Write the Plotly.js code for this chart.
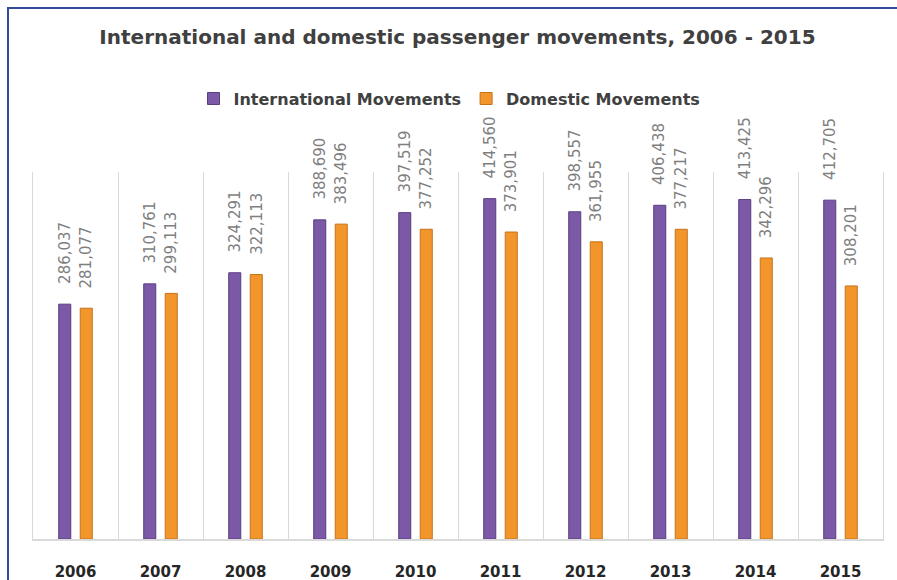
<!DOCTYPE html>
<html>
<head>
<meta charset="utf-8">
<script src="https://cdn.plot.ly/plotly-3.0.1.min.js"></script>
<style>
html,body{margin:0;padding:0;background:#fff;}
#wrap{position:relative;width:897px;height:580px;overflow:hidden;}
#chart{width:897px;height:580px;}
#frame{position:absolute;left:7px;top:7px;width:2000px;height:2000px;border-left:2px solid #2f4c9c;border-top:2px solid #2f4c9c;pointer-events:none;}
</style>
</head>
<body>
<div id="wrap"><div id="chart"></div><div id="frame"></div></div>
<script>
const years = ["2006","2007","2008","2009","2010","2011","2012","2013","2014","2015"];
const international = [286037,310761,324291,388690,397519,414560,398557,406438,413425,412705];
const domestic = [281077,299113,322113,383496,377252,373901,361955,377217,342296,308201];
const seriesNames = ["International Movements","Domestic Movements"];

const fmt = v => v.toLocaleString("en-US");

const traces = [
  {type:"bar", name:seriesNames[0], x:years, y:international,
   marker:{color:"#7b59a7", line:{color:"#5b3d82", width:1}}, hoverinfo:"x+y"},
  {type:"bar", name:seriesNames[1], x:years, y:domestic,
   marker:{color:"#f2952b", line:{color:"#c4731c", width:1}}, hoverinfo:"x+y"}
];

const annotations = [];
years.forEach((yr,i)=>{
  annotations.push({x:i, y:international[i], xref:"x", yref:"y", text:fmt(international[i]),
    showarrow:false, textangle:-90, xanchor:"center", yanchor:"bottom", xshift:-10.75, yshift:18,
    font:{family:"DejaVu Sans", size:15, color:"#7f7f7f"}});
  annotations.push({x:i, y:domestic[i], xref:"x", yref:"y", text:fmt(domestic[i]),
    showarrow:false, textangle:-90, xanchor:"center", yanchor:"bottom", xshift:10.75, yshift:18,
    font:{family:"DejaVu Sans", size:15, color:"#7f7f7f"}});
});

const layout = {
  width:897, height:580,
  margin:{l:33, r:14, t:172, b:41},
  paper_bgcolor:"#ffffff", plot_bgcolor:"#ffffff",
  title:{text:"International and domestic passenger movements, 2006 - 2015",
    font:{family:"DejaVu Sans", size:20, color:"#404040", weight:"bold"},
    x:0.51, xanchor:"center", y:0.936, yanchor:"middle", yref:"container"},
  barmode:"group", bargap:0.494, bargroupgap:0.44,
  showlegend:true,
  legend:{orientation:"h", x:0.49, xanchor:"center", y:1.2, yanchor:"middle",
    font:{family:"DejaVu Sans", size:16, color:"#404040", weight:"bold"},
    itemwidth:30, tracegroupgap:0},
  xaxis:{type:"category", range:[-0.5, years.length-0.5], autorange:false,
    tickson:"boundaries", showgrid:true, gridcolor:"#d9d9d9", gridwidth:1,
    showline:true, linecolor:"#d9d9d9", linewidth:2,
    ticks:"", ticklabelstandoff:18,
    tickfont:{family:"DejaVu Sans", size:15, color:"#262626", weight:"bold"}},
  yaxis:{range:[0,447000], autorange:false, showticklabels:false, ticks:"",
    showgrid:false, zeroline:false, showline:true, mirror:true,
    linecolor:"#d9d9d9", linewidth:1},
  annotations:annotations
};

Plotly.newPlot("chart", traces, layout, {displayModeBar:false, staticPlot:true});
</script>
</body>
</html>
